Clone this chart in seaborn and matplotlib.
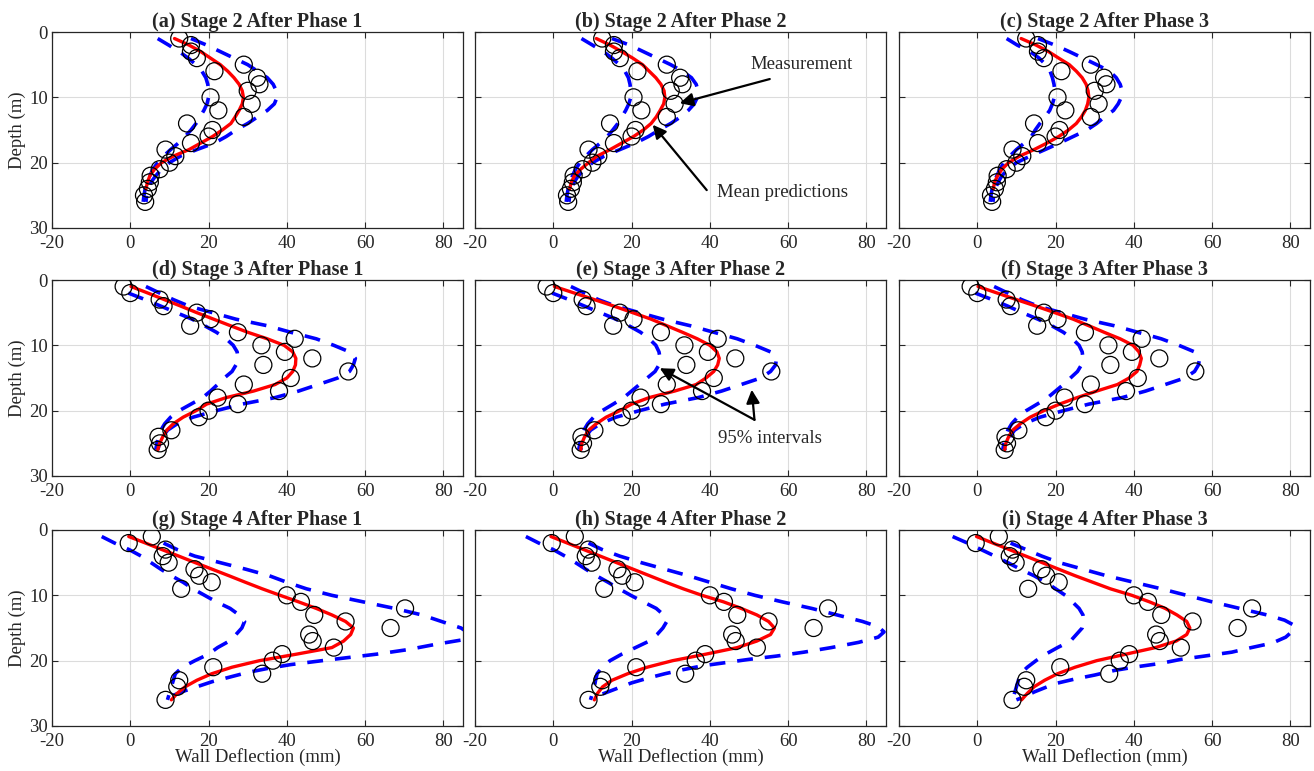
import matplotlib
matplotlib.use("Agg")
import matplotlib.pyplot as plt
import seaborn as sns

# --- DATA (x = wall deflection in mm, y = depth in m) ---
DEPTH = list(range(1, 27))

# measurements, one set per stage
MEAS_S2_DEPTH = list(range(1, 27))
MEAS_S2_X = [12.5, 15.5, 15.5, 17, 29, 21.5, 32.4, 33, 30, 20.5, 31, 22.5, 29,
             14.5, 21, 20, 15.5, 9, 11.5, 10, 7.5, 5.2, 5, 4.5, 3.5, 3.8]
MEAS_S3_DEPTH = list(range(1, 22)) + [23, 24, 25, 26]
MEAS_S3_X = [-1.7, 0, 7.5, 8.5, 17, 20.5, 15.3, 27.5, 42, 33.5, 39.5, 46.5, 34,
             55.7, 41, 29, 38, 22.3, 27.5, 20, 17.5, 10.5, 7.2, 7.6, 7]
MEAS_S4_DEPTH = list(range(1, 25)) + [26]
MEAS_S4_X = [5.5, -0.4, 9, 8.3, 9.8, 16.4, 17.6, 20.8, 13, 40, 43.6, 70.2, 47,
             55, 66.5, 45.7, 46.6, 52, 38.8, 36.4, 21.2, 33.7, 12.5, 12, 9]

# mean predictions
MEAN_A = [11.3, 15, 18, 20.5, 23, 24.9, 26.5, 27.8, 28.6, 28.9, 28.6, 27.8, 26.8,
          25.7, 23.5, 21, 18, 15, 11, 8, 6.2, 5, 4.4, 4]
MEAN_B = [11, 14.5, 17.5, 20.3, 22.8, 24.5, 26.2, 27.5, 28.3, 28.5, 28.2, 27.3, 26.3,
          25, 23, 20.5, 17.5, 14.5, 11.2, 9, 7, 5.4, 4.6, 4.2]
MEAN_C = [11.2, 15, 18.2, 20.8, 23.5, 25.3, 26.8, 27.8, 28.3, 28.5, 28.2, 27.6, 26.6,
          25.3, 23.3, 20.8, 17.8, 14.5, 10.8, 8, 6.3, 5.2, 4.4, 4.1]
MEAN_D = [0.2, 4.5, 8.7, 12.9, 17, 21.3, 25.6, 30, 35, 39.3, 41.5, 42.3, 42.2, 41.5,
          40, 37, 31.5, 24.5, 19.5, 16.8, 13.5, 11, 9.3, 8.3, 7.5, 7]
MEAN_E = [0.3, 5.4, 10.5, 15.5, 20.3, 25, 29, 33, 36.8, 40, 41.8, 42.4, 42, 41,
          39, 36.5, 31, 24.5, 20, 17, 13.5, 11, 9, 8, 7.3, 7]
MEAN_F = [0.2, 5.1, 10, 15, 19.8, 24.5, 28.5, 32.4, 36.5, 39.8, 41.3, 41.9, 41.5, 40.8,
          38.8, 35.8, 30.5, 25.5, 21, 17, 13.5, 11, 9, 8, 7.3, 7]
MEAN_G = [-0.4, 3.9, 8.1, 12.4, 16.6, 20.9, 25.2, 29.4, 33.7, 38.3, 43, 47.5, 51.5,
          55, 57, 56.3, 54.5, 51.5, 42.5, 33, 26, 20.8, 17, 14, 12, 10.5]
MEAN_H = [-0.6, 3.6, 7.8, 12, 16.2, 20.4, 24.6, 28.8, 33.2, 38, 43.5, 48, 52, 55,
          56.5, 55.5, 52, 47, 39, 30.5, 24, 19, 15, 12.6, 11.3, 10.5]
MEAN_I = [-0.2, 4, 8.2, 12.4, 16.6, 20.8, 25, 29.5, 34, 39.5, 44, 48, 51, 53.5,
          54.3, 53.5, 50.8, 45.5, 38, 30.5, 25, 20.5, 17.2, 14.5, 12.8, 11.3]

# 95% interval bounds
LOW_A = [7, 9.8, 12.5, 14.8, 16.8, 18.3, 19.3, 19.8, 20, 20, 19.6, 18.8, 17.8, 16.8,
         15.5, 14, 12.3, 10.3, 8.5, 7, 5.8, 5, 4.3, 3.8, 3.5, 3.3]
UP_A = [15.5, 19.5, 23, 26.5, 30, 32.5, 35, 36.5, 37.3, 37.5, 36.8, 35, 32.5, 30,
        27, 24.5, 21.5, 17, 12.8, 10, 8, 6.5, 5.3, 4.6, 4.2, 4]
LOW_B = [7.2, 10, 12.8, 15, 16.9, 18.3, 19.2, 19.6, 19.8, 19.8, 19.3, 18.5, 17.5, 16.5,
         15.2, 13.8, 12, 10, 8.3, 6.8, 5.7, 4.9, 4.3, 3.8, 3.5, 3.3]
UP_B = [15, 19.5, 23, 26.5, 30, 33, 35.3, 36.5, 37, 36.8, 36, 34.5, 32.5, 30, 27,
        24.3, 21, 17, 13, 10, 8, 6.4, 5.3, 4.6, 4.2, 4]
LOW_C = [7.5, 10.2, 13.5, 15.8, 17.5, 18.6, 19.2, 19.6, 19.8, 19.7, 19.2, 18.5, 17.3, 16,
         14.8, 13.8, 12, 10, 8.3, 6.8, 5.8, 5, 4.3, 3.8, 3.5, 3.3]
UP_C = [15.5, 19.8, 23.5, 27, 30.5, 33.8, 35.5, 36.5, 37, 36.8, 36, 34.8, 32.5, 30.5,
        28, 24.5, 21, 17.3, 13.5, 10, 7.8, 6.3, 5.3, 4.6, 4.2, 4]
LOW_D = [-0.5, 3.8, 7.8, 11.8, 15.8, 19, 22, 24.5, 26.3, 27.3, 27.5, 27, 26, 24, 22.3,
         20.5, 18.5, 15.5, 12.5, 10.3, 8.8, 7.8, 7.2, 6.8, 6.5]
UP_D = [4, 7.5, 11, 15, 21, 27, 35, 41, 47.5, 52, 56, 57.5, 57, 56, 53, 48, 43, 37,
        28.5, 22, 16, 12, 9.5, 8.3, 7.5, 7]
LOW_E = [-0.3, 4, 8, 12, 16, 19.3, 22.3, 24.5, 26.2, 27, 27.3, 27, 26, 24, 22, 20, 18,
         15.3, 12.5, 10.3, 8.8, 7.8, 7.2, 6.8, 6.5]
UP_E = [4.5, 8, 11.5, 16, 22, 28, 35, 41, 47, 51.5, 55.5, 57, 56.8, 55.5, 53, 48, 43,
        37, 28.5, 22, 16, 12, 9.5, 8.3, 7.5, 7]
LOW_F = [-0.5, 3.8, 7.8, 11.5, 15.5, 19, 22, 24.3, 26, 26.8, 27, 26.6, 25.6, 23.8, 22,
         20, 18, 15.3, 12.5, 10.3, 8.8, 7.8, 7.2, 6.8, 6.5]
UP_F = [4.3, 7.8, 11.3, 15.5, 21.5, 27.5, 35, 41, 47, 51.5, 55.5, 56.8, 56.5, 55.5, 53,
        48, 43, 37, 28.5, 22, 16, 12, 9.5, 8.3, 7.5, 7]
LOW_G = [-7.3, -4, -0.3, 2.8, 5.3, 7.8, 10.5, 13.5, 16, 19, 22, 25.5, 27.8, 29.2, 28.5,
         27, 25.3, 22.3, 20, 16.5, 13.3, 11.5, 11, 10.5, 10, 9.5]
LOW_H = [-7, -3.7, 0, 3, 5.7, 8.3, 11, 14, 16.8, 19.8, 23, 26.3, 28.2, 29, 28, 26.5,
         24.5, 21, 17.5, 14.5, 12.5, 11.2, 10.8, 10.5, 10, 9.5]
LOW_I = [-6.3, -2.5, 1, 4.5, 7.8, 11, 14.5, 17.5, 20, 22.5, 24.3, 26, 27, 27.2, 26.8,
         25.3, 23.8, 20.5, 17.5, 15, 12.8, 11, 10.5, 10, 9.5, 9]
UP_G_DEPTH = [2, 3, 4, 5, 6, 7, 8, 9, 10, 11, 12, 13, 14, 15, 16, 16.8, 17.5, 18.3,
              19, 19.5, 20, 20.6, 21.2, 21.8, 22.5, 23.2, 24, 24.7, 25.3, 26]
UP_G = [8.5, 12, 16.5, 23, 29.5, 35.5, 40, 45, 51.5, 59.5, 67.5, 74.5, 79.5, 84.5, 87,
        85, 78, 71, 63, 56, 49, 41, 35, 30, 25.5, 21, 17, 13.5, 11, 8.5]
UP_H_DEPTH = [2, 3, 4, 5, 6, 7, 8, 9, 10, 11, 12, 13, 14, 14.8, 15.6, 16.4, 17.2, 18,
              18.7, 19.3, 19.8, 20.3, 20.8, 21.4, 22, 22.7, 23.4, 24.2, 25, 25.8]
UP_H = [9, 12.5, 17, 22.5, 28.5, 34.5, 40, 45.5, 51.5, 58.5, 66, 72.5, 79, 83, 84.5,
        83, 78, 71, 64, 57, 50, 44, 38, 33, 28.5, 24, 20, 16.5, 13, 10]
UP_I_DEPTH = [2, 3, 4, 5, 6, 7, 8, 9, 10, 11, 12, 13, 13.8, 14.6, 15.5, 16.4, 17.3, 18,
              18.7, 19.3, 19.8, 20.4, 21, 21.5, 22.2, 22.8, 23.5, 24.2, 24.8, 25.4, 26]
UP_I = [8.5, 12.5, 16.5, 21, 27, 33, 40, 47, 53.5, 60, 67, 74, 78.5, 81, 80.5, 78.8,
        75.4, 70, 65, 58, 52, 47, 40, 35, 30, 25, 20, 17, 14.5, 12.5, 10]

TITLES = ["(a) Stage 2 After Phase 1", "(b) Stage 2 After Phase 2", "(c) Stage 2 After Phase 3",
          "(d) Stage 3 After Phase 1", "(e) Stage 3 After Phase 2", "(f) Stage 3 After Phase 3",
          "(g) Stage 4 After Phase 1", "(h) Stage 4 After Phase 2", "(i) Stage 4 After Phase 3"]

# --- STYLE ---
sns.set_style("ticks", {"xtick.direction": "in", "ytick.direction": "in",
                        "axes.edgecolor": "#262626"})
plt.rcParams["font.family"] = ["Liberation Serif", "DejaVu Serif"]
plt.rcParams["axes.unicode_minus"] = False
FS = 13.5

fig = plt.figure(figsize=(13.14, 7.71), dpi=100)
FW, FH = 1314, 771
COL_LEFT = [52, 475, 899]
ROW_TOP = [32, 280, 530]
AX_W, AX_H = 411, 196

panels = [
    (MEAS_S2_X, MEAS_S2_DEPTH, MEAN_A, DEPTH, LOW_A, DEPTH, UP_A, DEPTH),
    (MEAS_S2_X, MEAS_S2_DEPTH, MEAN_B, DEPTH, LOW_B, DEPTH, UP_B, DEPTH),
    (MEAS_S2_X, MEAS_S2_DEPTH, MEAN_C, DEPTH, LOW_C, DEPTH, UP_C, DEPTH),
    (MEAS_S3_X, MEAS_S3_DEPTH, MEAN_D, DEPTH, LOW_D, DEPTH[1:], UP_D, DEPTH),
    (MEAS_S3_X, MEAS_S3_DEPTH, MEAN_E, DEPTH, LOW_E, DEPTH[1:], UP_E, DEPTH),
    (MEAS_S3_X, MEAS_S3_DEPTH, MEAN_F, DEPTH, LOW_F, DEPTH[1:], UP_F, DEPTH),
    (MEAS_S4_X, MEAS_S4_DEPTH, MEAN_G, DEPTH, LOW_G, DEPTH, UP_G, UP_G_DEPTH),
    (MEAS_S4_X, MEAS_S4_DEPTH, MEAN_H, DEPTH, LOW_H, DEPTH, UP_H, UP_H_DEPTH),
    (MEAS_S4_X, MEAS_S4_DEPTH, MEAN_I, DEPTH, LOW_I, DEPTH, UP_I, UP_I_DEPTH),
]

DASH = (0, (4.4, 3.3))
axes = []
for k, (mx, md, mean, mean_d, low, low_d, up, up_d) in enumerate(panels):
    r, c = divmod(k, 3)
    ax = fig.add_axes([COL_LEFT[c] / FW, 1 - (ROW_TOP[r] + AX_H) / FH, AX_W / FW, AX_H / FH])
    axes.append(ax)

    for xs, ds in ((low, low_d), (up, up_d)):
        sns.lineplot(x=xs, y=ds[:len(xs)], ax=ax, orient="y", sort=False, estimator=None,
                     color="#0000ff", lw=2.6, linestyle=DASH, zorder=3)
    sns.lineplot(x=mean, y=mean_d[:len(mean)], ax=ax, orient="y", sort=False,
                 estimator=None, color="#ff0000", lw=2.4, zorder=4)
    sns.scatterplot(x=mx, y=md, ax=ax, marker="o", s=150, facecolors="none",
                    edgecolor="black", linewidth=0.9, zorder=5)

    ax.set_xlim(-20, 85)
    ax.set_ylim(30, 0)
    ax.set_xticks([-20, 0, 20, 40, 60, 80])
    ax.set_yticks([0, 10, 20, 30])
    ax.grid(True, color="#dcdcdc", lw=0.8)
    ax.set_axisbelow(True)
    ax.tick_params(which="both", direction="in", top=True, right=True, length=4,
                   width=0.8, labelsize=FS, color="#262626")
    ax.tick_params(axis="x", pad=5)
    ax.tick_params(axis="y", pad=3)
    for sp in ax.spines.values():
        sp.set_linewidth(0.9)
        sp.set_color("#262626")
    ax.set_title(TITLES[k], fontsize=14.5, fontweight="bold", pad=3)
    ax.set_xlabel("Wall Deflection (mm)" if r == 2 else "", fontsize=FS, labelpad=-1)
    if c == 0:
        ax.set_ylabel("Depth (m)", fontsize=FS, labelpad=2)
    else:
        ax.set_ylabel("")
        ax.tick_params(labelleft=False)

# --- ANNOTATIONS ---
arrow = dict(arrowstyle="-|>", color="black", lw=1.6, mutation_scale=20,
             shrinkA=0, shrinkB=0)
ax_b = axes[1]
ax_b.text(63.5, 5, "Measurement", fontsize=FS, ha="center", va="center", zorder=6)
ax_b.annotate("", xy=(32.3, 10.9), xytext=(55.3, 7.2), arrowprops=arrow, zorder=6)
ax_b.text(58.6, 24.5, "Mean predictions", fontsize=FS, ha="center", va="center", zorder=6)
ax_b.annotate("", xy=(25.4, 14.2), xytext=(39.2, 24.2), arrowprops=arrow, zorder=6)

ax_e = axes[4]
ax_e.text(55.3, 24.2, "95% intervals", fontsize=FS, ha="center", va="center", zorder=6)
ax_e.annotate("", xy=(27.2, 13.5), xytext=(51.4, 21.4), arrowprops=arrow, zorder=6)
ax_e.annotate("", xy=(50.7, 16.8), xytext=(51.4, 21.4), arrowprops=arrow, zorder=6)

fig.savefig("out.png", dpi=100)
